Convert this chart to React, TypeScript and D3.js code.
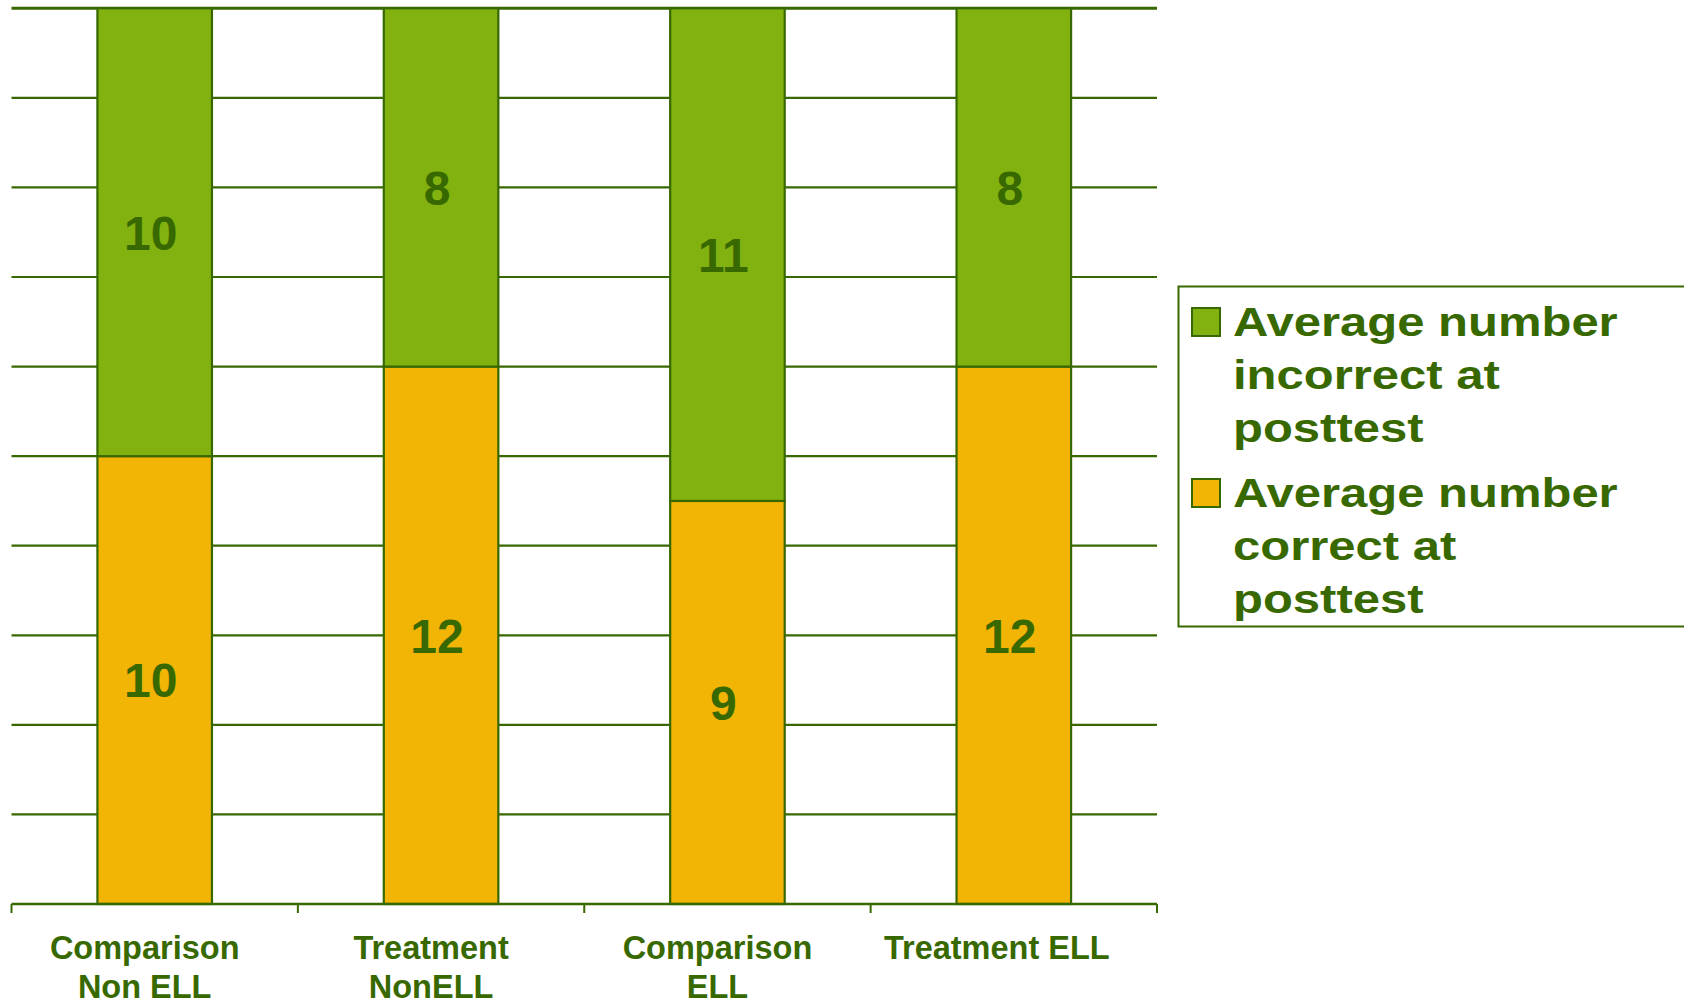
import React from "react";
import * as d3 from "d3";

const categories = ["Comparison Non ELL", "Treatment NonELL", "Comparison ELL", "Treatment ELL"];
const categoryLines = [["Comparison", "Non ELL"], ["Treatment", "NonELL"], ["Comparison", "ELL"], ["Treatment ELL"]];
const correct = [10, 12, 9, 12];
const incorrect = [10, 8, 11, 8];
const seriesNames = [
  ["Average number", "incorrect at", "posttest"],
  ["Average number", "correct at", "posttest"],
];
const yTicks = [0, 2, 4, 6, 8, 10, 12, 14, 16, 18, 20];

const W = 1684;
const H = 1002;
const GREEN = "#82b20f";
const ORANGE = "#f2b405";
const DARK = "#386900";
const FONT = "'Liberation Sans', Arial, sans-serif";

export default function App() {
  const x = d3.scaleBand<string>().domain(categories).range([11.5, 1157]).paddingInner(0.6).paddingOuter(0.3);
  const y = d3.scaleLinear().domain([0, 20]).range([904, 8.3]);
  const step = x.step();
  const x0 = 11.5;
  const rows = categories.map((c, i) => ({ c, i, correct: correct[i], incorrect: incorrect[i] }));
  const stack = d3.stack<any>().keys(["correct", "incorrect"])(rows as any);
  const colors = [ORANGE, GREEN];

  return (
    <div style={{ position: "absolute", left: 0, top: 0 }}>
      <svg width={W} height={H} style={{ display: "block", background: "#fff" }}>
        {yTicks.filter((t) => t > 0).map((t) => (
          <line key={t} x1={x0} x2={1157} y1={y(t)} y2={y(t)} stroke={DARK} strokeWidth={t === 20 ? 3 : 2.2} />
        ))}
        {stack.map((s, si) =>
          s.map((d, i) => (
            <rect
              key={`${si}-${i}`}
              x={x(categories[i])!}
              y={y(d[1])}
              width={x.bandwidth()}
              height={y(d[0]) - y(d[1])}
              fill={colors[si]}
              stroke={DARK}
              strokeWidth={2.2}
            />
          ))
        )}
        <line x1={x0} x2={1157} y1={y(0)} y2={y(0)} stroke={DARK} strokeWidth={2.5} />
        {d3.range(categories.length + 1).map((k) => (
          <line key={k} x1={x0 + k * step} x2={x0 + k * step} y1={y(0)} y2={y(0) + 9} stroke={DARK} strokeWidth={2} />
        ))}
        {stack.map((s, si) =>
          s.map((d, i) => (
            <text
              key={`l${si}-${i}`}
              x={x(categories[i])! + x.bandwidth() / 2 - 4}
              y={(y(d[0]) + y(d[1])) / 2}
              dy="0.36em"
              textAnchor="middle"
              fontFamily={FONT}
              fontWeight="bold"
              fontSize={48}
              fill={DARK}
            >
              {d[1] - d[0]}
            </text>
          ))
        )}
        {categoryLines.map((lines, i) => {
          const cx = x(categories[i])! + x.bandwidth() / 2 - (lines.length === 1 ? 17 : 10);
          return (
            <text
              key={`c${i}`}
              x={cx}
              y={959}
              textAnchor="middle"
              fontFamily={FONT}
              fontWeight="bold"
              fontSize={32.5}
              fill={DARK}
            >
              {lines.map((ln, j) => (
                <tspan key={j} x={cx} dy={j === 0 ? 0 : 38.5}>
                  {ln}
                </tspan>
              ))}
            </text>
          );
        })}
        <rect x={1178.5} y={286.5} width={600} height={340} fill="none" stroke={DARK} strokeWidth={2} />
        {seriesNames.map((lines, k) => {
          const base = 336 + k * 171;
          return (
            <g key={`lg${k}`}>
              <rect x={1192} y={base - 28} width={28} height={28} fill={k === 0 ? GREEN : ORANGE} stroke={DARK} strokeWidth={2} />
              <g transform={`translate(1233,0) scale(1.195,1)`}>
                <text fontFamily={FONT} fontWeight="bold" fontSize={41} fill={DARK}>
                  {lines.map((ln, j) => (
                    <tspan key={j} x={0} y={base + j * 53}>
                      {ln}
                    </tspan>
                  ))}
                </text>
              </g>
            </g>
          );
        })}
      </svg>
    </div>
  );
}
